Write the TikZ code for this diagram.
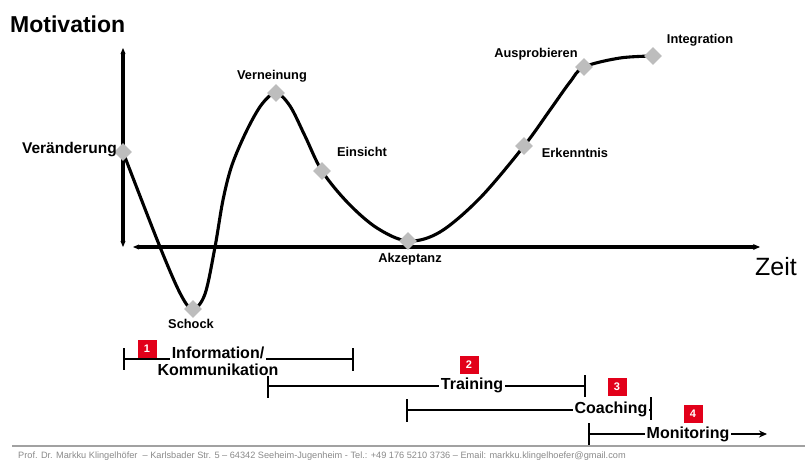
\documentclass[tikz,border=0pt]{standalone}
\usepackage{fontspec}
\setmainfont{Liberation Sans}
\usetikzlibrary{shapes.geometric,arrows.meta}
\definecolor{dgray}{HTML}{BDBDBD}
\definecolor{mred}{HTML}{E2001A}
\definecolor{fgray}{HTML}{8A8A8A}
\begin{document}
\begin{tikzpicture}[x=1pt,y=-1pt,
  ptmark/.style={diamond,fill=dgray,minimum size=18pt,inner sep=0pt},
  lab/.style={font=\fontsize{12.8}{14}\selectfont\bfseries,inner sep=0pt},
  phase/.style={font=\fontsize{16}{17}\selectfont\bfseries,fill=white,inner sep=1.5pt,anchor=base},
  num/.style={fill=mred,text=white,font=\fontsize{11}{12}\selectfont\bfseries,minimum width=19pt,minimum height=18pt,inner sep=0pt},
  axis/.style={line width=3.1pt},
  bar/.style={line width=1.5pt},
  curve/.style={line width=3.1pt}]
\useasboundingbox (0,0) rectangle (805,461);

% axes
\coordinate (ytop) at (123,48);
\coordinate (ybot) at (123,247);
\coordinate (xl) at (133,247);
\coordinate (xr) at (760,247);
\draw[axis,{Stealth[length=6pt,width=5pt]}-{Stealth[length=6pt,width=5pt]}] (ybot) -- (ytop);
\draw[axis,{Stealth[length=6pt,width=5pt]}-{Stealth[length=7pt,width=6pt]}] (xl) -- (xr);

\node[font=\fontsize{23}{25}\selectfont\bfseries,anchor=base west,inner sep=0pt] (mot) at (10,32) {Motivation};
\node[font=\fontsize{25}{27}\selectfont,anchor=base west,inner sep=0pt] (zeit) at (755,275) {Zeit};

% curve
\draw[curve] plot[smooth,tension=0.55] coordinates {
 (123,152) (160,247) (181,295) (193,309) (205,294) (215,247) (223,200) (232,165)
 (247,130) (262,104) (276,93) (290,106) (305,136) (322,171) (348,203) (377,228)
 (408,241) (440,232) (480,198) (524,146) (550,110) (570,82) (584,67) (620,58) (653,56)};

% points
\node[ptmark] (p1) at (123,152) {};
\node[ptmark] (p2) at (193,309) {};
\node[ptmark] (p3) at (276,93) {};
\node[ptmark] (p4) at (322,171) {};
\node[ptmark] (p5) at (408,241) {};
\node[ptmark] (p6) at (524,146) {};
\node[ptmark] (p7) at (584,67) {};
\node[ptmark] (p8) at (653,56) {};

\node[lab,font=\fontsize{15.5}{17}\selectfont\bfseries,anchor=east] (l1) at (117,150) {Veränderung};
\node[lab] (l2) at (191,324) {Schock};
\node[lab] (l3) at (272,76) {Verneinung};
\node[lab] (l4) at (362,152) {Einsicht};
\node[lab] (l5) at (410,259) {Akzeptanz};
\node[lab] (l6) at (575,153) {Erkenntnis};
\node[lab] (l7) at (536,54) {Ausprobieren};
\node[lab] (l8) at (700,40) {Integration};

% phase 1
\coordinate (a1) at (124,359); \coordinate (b1) at (353,359);
\draw[bar] (a1) -- (b1);
\draw[bar] (124,348) -- (124,370);
\draw[bar] (353,348) -- (353,371);
\node[phase] (t1a) at (218,358) {Information/};
\node[phase] (t1b) at (218,375) {Kommunikation};
\node[num] (n1) at (147,349) {1};

% phase 2
\coordinate (a2) at (268,386); \coordinate (b2) at (585,386);
\draw[bar] (a2) -- (b2);
\node[phase] (t2) at (472,389) {Training};
\draw[bar] (268,376) -- (268,398);
\draw[bar] (585,375) -- (585,397);
\node[num] (n2) at (469,365) {2};

% phase 3
\coordinate (a3) at (407,410); \coordinate (b3) at (651,410);
\draw[bar] (a3) -- (b3);
\node[phase] (t3) at (611,413) {Coaching};
\draw[bar] (407,399) -- (407,422);
\draw[bar] (651,397) -- (651,420);
\node[num] (n3) at (617,387) {3};

% phase 4
\coordinate (a4) at (589,434); \coordinate (b4) at (767,434);
\draw[bar,-{Stealth[length=8pt,width=7pt]}] (a4) -- (b4);
\node[phase] (t4) at (688,438) {Monitoring};
\draw[bar] (589,423) -- (589,447);
\node[num] (n4) at (693,414) {4};

% footer
\coordinate (f1) at (12,446); \coordinate (f2) at (805,446);
\draw[line width=1.6pt,fgray!80] (f1) -- (f2);
\node[anchor=base west,inner sep=0pt,text=fgray,font=\fontsize{9.2}{10}\selectfont] (foot) at (18,458)
 {Prof. Dr. Markku Klingelhöfer \ -- Karlsbader Str. 5 -- 64342 Seeheim-Jugenheim - Tel.: +49 176 5210 3736 -- Email: markku.klingelhoefer@gmail.com};
\end{tikzpicture}
\end{document}
